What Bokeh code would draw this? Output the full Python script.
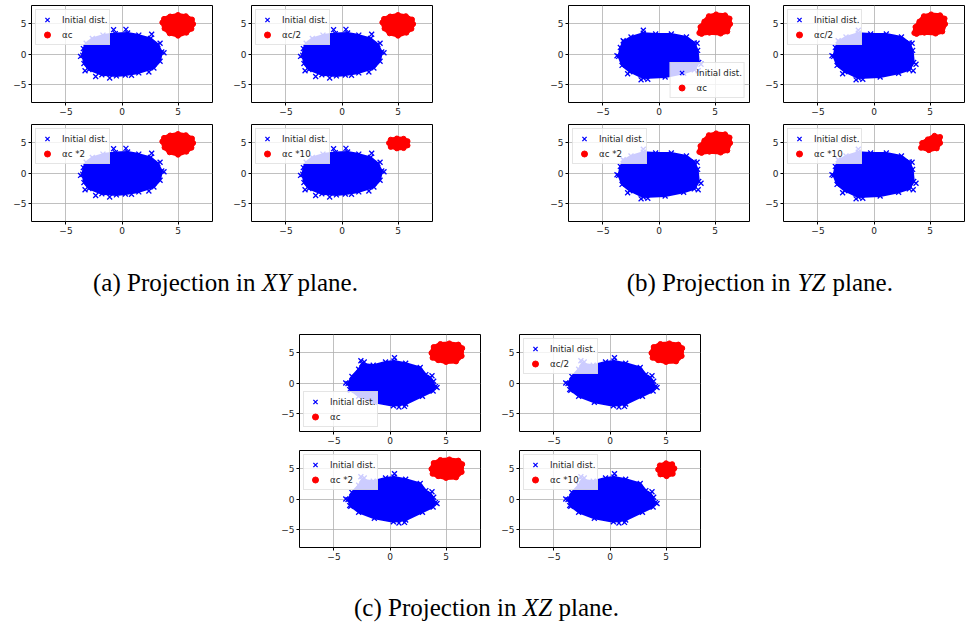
from bokeh.plotting import figure
from bokeh.models import (Range1d, FixedTicker, CustomJSTickFormatter, Legend,
                          LegendItem, Spacer)
from bokeh.layouts import column, row
from bokeh.embed import file_html
from bokeh.resources import INLINE
from bokeh.core.properties import value

# ---------------- data (data units) ----------------
ticks = [-5, 0, 5]
axis_lim = [-8.08, 8.08]

# initial distribution: edge of the dense cloud + isolated crosses
xy_init_x = [-3.5, -3.45, -3.2, -2.65, -1.7, -0.6, 0.5, 1.5, 2.55, 3.2, 3.55, 3.4, 2.85, 1.5, 0.3, -0.5, -1.8, -2.95, -3.4]
xy_init_y = [-0.2, 0.9, 1.8, 2.6, 3.15, 3.4, 3.5, 3.15, 2.6, 1.6, 0.35, -1.2, -2.35, -3.15, -3.5, -3.65, -3.45, -2.6, -1.6]
xy_out_x = [-2.35, 2.65, 0.35, 0.85, -1.1, -0.75, 3.4, 3.75, -3.7, -3.3, 2.4]
xy_out_y = [-3.75, 3.3, 4.1, -3.55, -4.0, 4.05, 1.8, 0.2, -0.4, -2.8, -3.0]

yz_init_x = [-3.6, -3.45, -3.15, -2.5, -1.4, -0.3, 1.1, 2.45, 3.15, 3.45, 3.55, 3.15, 2.2, 0.55, -1.4, -2.6, -3.3]
yz_init_y = [-0.4, 1.1, 2.1, 2.85, 3.45, 3.35, 3.35, 2.85, 1.85, 0.6, -1.4, -2.65, -3.2, -3.85, -4.0, -2.95, -1.9]
yz_out_x = [-1.4, -3.2, -3.75, 3.75, 3.5, -1.6, -2.8, 3.4, -1.0]
yz_out_y = [3.95, 2.2, -0.3, -1.7, -2.8, -4.3, -3.3, 1.8, -4.2]

xz_init_x = [-3.75, -3.4, -2.8, -2.5, -1.5, -0.4, 0.35, 1.4, 2.7, 3.2, 3.6, 4.05, 3.85, 2.9, 1.4, 0.3, -1.4, -2.8, -3.5]
xz_init_y = [-0.1, 1.1, 2.3, 3.2, 2.95, 3.5, 3.65, 3.3, 2.6, 1.4, 0.9, -0.6, -1.35, -2.2, -3.5, -3.8, -3.2, -2.2, -1.2]
xz_out_x = [-2.6, -2.3, 0.4, 4.2, 3.75, 3.9, 0.8, 1.3, -3.95, -3.6]
xz_out_y = [3.7, 3.5, 4.2, -0.75, 1.2, 0.3, -4.0, -3.9, 0.0, -1.1]

# final distributions (alpha_c, alpha_c/2, alpha_c*2 share one edge; alpha_c*10 is smaller)
xy_big_x = [3.6, 3.75, 4.3, 5.0, 5.7, 6.25, 6.35, 6.2, 5.75, 5.0, 4.25, 3.8]
xy_big_y = [5.25, 5.85, 6.25, 6.5, 6.3, 5.75, 5.0, 4.2, 3.55, 3.05, 3.45, 4.25]
xy_small_x = [4.2, 4.35, 4.9, 5.5, 5.85, 5.85, 5.5, 4.9, 4.35]
xy_small_y = [5.0, 5.55, 5.75, 5.7, 5.3, 4.6, 4.15, 4.1, 4.35]

yz_big_x = [3.6, 3.7, 4.05, 4.45, 5.1, 5.9, 6.3, 6.35, 6.1, 5.5, 4.5, 3.8]
yz_big_y = [3.5, 4.5, 5.4, 6.3, 6.6, 6.45, 5.9, 5.0, 3.75, 3.4, 3.55, 3.35]
yz_small_x = [4.2, 4.3, 4.8, 5.4, 5.9, 5.9, 5.6, 4.9]
yz_small_y = [4.2, 5.0, 5.6, 6.2, 6.0, 5.0, 4.1, 3.8]

xz_big_x = [3.7, 3.9, 4.5, 5.3, 6.1, 6.45, 6.4, 5.9, 5.0, 4.3, 3.8]
xz_big_y = [5.0, 6.0, 6.5, 6.6, 6.4, 5.8, 4.5, 3.6, 3.5, 3.8, 4.2]
xz_small_x = [4.3, 4.45, 5.0, 5.55, 5.75, 5.6, 5.05, 4.5]
xz_small_y = [4.9, 5.6, 5.95, 5.8, 5.1, 4.2, 3.8, 4.1]

init_label = "Initial dist."
labels = ["\u03b1c", "\u03b1c/2", "\u03b1c *2", "\u03b1c *10"]

caption_left = ["(a) Projection in", "(b) Projection in", "(c) Projection in"]
caption_mid = ["XY", "YZ", "XZ"]
caption_right = ["plane.", "plane.", "plane."]

# ---------------- helpers ----------------
FW, FH = 181, 97
CAP_FONT = value("Liberation Serif")
CAP_SIZE = "25px"


def panel(ix, iy, ox, oy, rx, ry, label, loc, L, R, T=1, B=20):
    p = figure(frame_width=FW, frame_height=FH, min_border_left=L, min_border_right=R,
               min_border_top=T, min_border_bottom=B,
               x_range=Range1d(*axis_lim), y_range=Range1d(*axis_lim),
               toolbar_location=None, output_backend="svg")
    p.outline_line_color = "black"
    p.outline_line_width = 1
    for ax in (p.xaxis[0], p.yaxis[0]):
        ax.ticker = FixedTicker(ticks=ticks)
        ax.formatter = CustomJSTickFormatter(
            code="return (tick < 0 ? '\u2212' : '') + Math.abs(tick).toString();")
        ax.axis_line_color = None
        ax.major_tick_out = 3
        ax.major_tick_in = 0
        ax.minor_tick_line_color = None
        ax.major_tick_line_color = "black"
        ax.major_label_standoff = 2
        ax.major_label_text_font = "DejaVu Sans"
        ax.major_label_text_font_size = "9px"
        ax.major_label_text_color = "#222222"
    p.grid.grid_line_color = "#b0b0b0"
    p.grid.grid_line_width = 0.8

    p.patch(ix, iy, fill_color="blue", line_color="blue", line_width=2)
    blue = p.scatter(ix + ox, iy + oy, marker="x", size=7, line_color="blue", line_width=1.3)
    p.patch(rx, ry, fill_color="red", line_color="red", line_width=4, line_join="round")
    red = p.scatter(rx, ry, marker="circle", size=5, fill_color="red", line_color="red")

    leg = Legend(items=[LegendItem(label=init_label, renderers=[blue]),
                        LegendItem(label=label, renderers=[red])],
                 location=loc, margin=4, padding=2, spacing=0,
                 glyph_width=18, glyph_height=15, label_height=13, label_standoff=6,
                 label_text_font="DejaVu Sans", label_text_font_size="8.7px",
                 label_text_color="#222222",
                 background_fill_color="white", background_fill_alpha=0.8,
                 border_line_color="#cccccc", border_line_width=1)
    p.add_layout(leg)
    return p


def caption_fig(width, height):
    p = figure(width=width, height=height, x_range=Range1d(0, width), y_range=Range1d(0, height),
               min_border=0, toolbar_location=None, output_backend="svg")
    p.axis.visible = False
    p.grid.visible = False
    p.outline_line_color = None
    return p


def add_caption(p, i, cx, cy):
    p.text(x=[cx - 21], y=[cy], text=[caption_left[i]], text_font=CAP_FONT, text_font_size=CAP_SIZE,
           text_align="right", text_baseline="middle", text_color="black")
    p.text(x=[cx], y=[cy], text=[caption_mid[i]], text_font=CAP_FONT, text_font_size=CAP_SIZE,
           text_font_style="italic", text_align="center", text_baseline="middle", text_color="black")
    p.text(x=[cx + 21], y=[cy], text=[caption_right[i]], text_font=CAP_FONT, text_font_size=CAP_SIZE,
           text_align="left", text_baseline="middle", text_color="black")


# ---------------- panels ----------------
a1 = panel(xy_init_x, xy_init_y, xy_out_x, xy_out_y, xy_big_x, xy_big_y, labels[0], "top_left", 31, 9, T=5, B=21)
a2 = panel(xy_init_x, xy_init_y, xy_out_x, xy_out_y, xy_big_x, xy_big_y, labels[1], "top_left", 30, 6, T=5, B=21)
a3 = panel(xy_init_x, xy_init_y, xy_out_x, xy_out_y, xy_big_x, xy_big_y, labels[2], "top_left", 31, 9)
a4 = panel(xy_init_x, xy_init_y, xy_out_x, xy_out_y, xy_small_x, xy_small_y, labels[3], "top_left", 30, 6)

b1 = panel(yz_init_x, yz_init_y, yz_out_x, yz_out_y, yz_big_x, yz_big_y, labels[0], "bottom_right", 30, 4, T=5, B=21)
b2 = panel(yz_init_x, yz_init_y, yz_out_x, yz_out_y, yz_big_x, yz_big_y, labels[1], "top_left", 30, 1, T=5, B=21)
b3 = panel(yz_init_x, yz_init_y, yz_out_x, yz_out_y, yz_big_x, yz_big_y, labels[2], "top_left", 30, 4)
b4 = panel(yz_init_x, yz_init_y, yz_out_x, yz_out_y, yz_small_x, yz_small_y, labels[3], "top_left", 30, 1)

c1 = panel(xz_init_x, xz_init_y, xz_out_x, xz_out_y, xz_big_x, xz_big_y, labels[0], "bottom_left", 30, 9, B=18)
c2 = panel(xz_init_x, xz_init_y, xz_out_x, xz_out_y, xz_big_x, xz_big_y, labels[1], "top_left", 30, 1, B=18)
c3 = panel(xz_init_x, xz_init_y, xz_out_x, xz_out_y, xz_big_x, xz_big_y, labels[2], "top_left", 30, 9)
c4 = panel(xz_init_x, xz_init_y, xz_out_x, xz_out_y, xz_small_x, xz_small_y, labels[3], "top_left", 30, 1)

cap_ab = caption_fig(965, 92)
add_caption(cap_ab, 0, 276, 51)
add_caption(cap_ab, 1, 811, 51)

cap_c = caption_fig(965, 59)
add_caption(cap_c, 2, 537, 19)

layout = column(
    row(a1, a2, Spacer(width=100, height=123), b1, b2),
    row(a3, a4, Spacer(width=100, height=118), b3, b4),
    cap_ab,
    row(Spacer(width=269, height=116), c1, c2),
    row(Spacer(width=269, height=118), c3, c4),
    cap_c,
)

open("out.html", "w").write(file_html(layout, INLINE))
